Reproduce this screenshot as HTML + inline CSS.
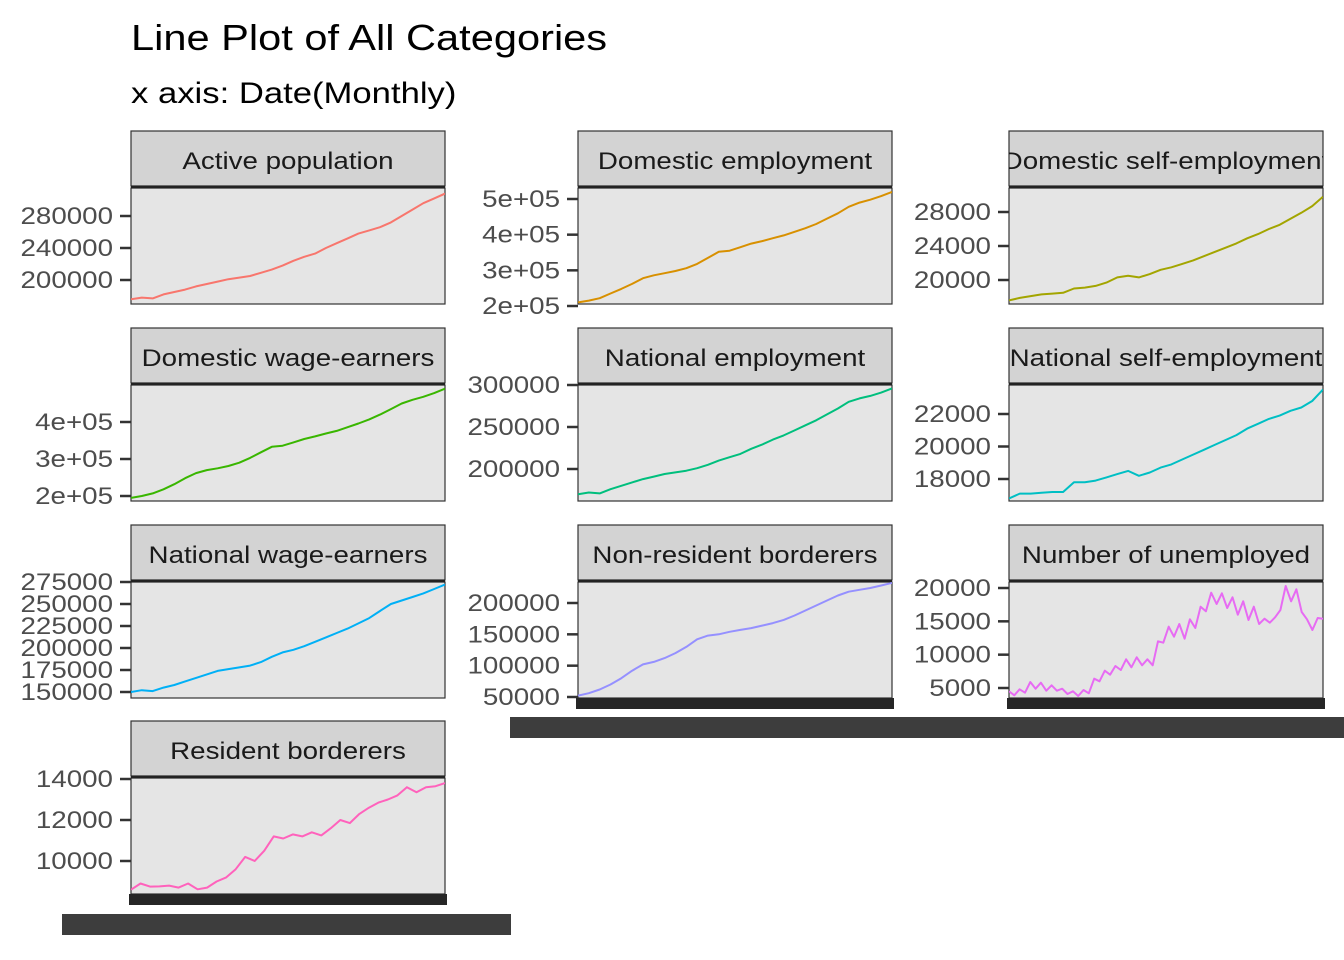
<!DOCTYPE html>
<html><head><meta charset="utf-8"><style>
html,body{margin:0;padding:0;background:#fff;}
svg{display:block;font-family:"Liberation Sans",Arial,sans-serif;}
</style></head><body>
<svg id="chart" width="1344" height="960" viewBox="0 0 1344 960">
<text id="ttl" x="131" y="50" font-size="36" fill="#000">Line Plot of All Categories</text>
<text id="sub" x="131" y="103" font-size="30" fill="#000">x axis: Date(Monthly)</text>
<g id="panels"></g>
</svg>
<script>
const categories = ["Active population","Domestic employment","Domestic self-employment","Domestic wage-earners","National employment","National self-employment","National wage-earners","Non-resident borderers","Number of unemployed","Resident borderers"];
const colors = ["#F8766D","#D89000","#A3A500","#39B600","#00BF7D","#00BFC4","#00B0F6","#9590FF","#E76BF3","#FF62BC"];
const sActive = [176000,178000,177000,182000,185000,188000,192000,195000,198000,201000,203000,205000,209000,213000,218000,224000,229000,233000,240000,246000,252000,258000,262000,266000,272000,280000,288000,296000,302000,308000];
const sDomEmp = [210000,215000,222000,235000,248000,262000,278000,286000,292000,298000,306000,318000,335000,352000,355000,365000,375000,382000,390000,398000,408000,418000,430000,445000,460000,478000,490000,498000,508000,520000];
const sDomSelf = [17600,17900,18100,18300,18400,18500,19000,19100,19300,19700,20300,20500,20300,20700,21200,21500,21900,22300,22800,23300,23800,24300,24900,25400,26000,26500,27200,27900,28700,29800];
const sDomWage = [195000,200000,207000,218000,232000,248000,262000,270000,275000,281000,290000,303000,318000,333000,336000,345000,354000,361000,369000,376000,386000,396000,407000,420000,435000,450000,460000,468000,478000,490000];
const sNatEmp = [170000,172000,171000,176000,180000,184000,188000,191000,194000,196000,198000,201000,205000,210000,214000,218000,224000,229000,235000,240000,246000,252000,258000,265000,272000,280000,284000,287000,291000,296000];
const sNatSelf = [16800,17100,17100,17150,17200,17200,17800,17800,17900,18100,18300,18500,18200,18400,18700,18900,19200,19500,19800,20100,20400,20700,21100,21400,21700,21900,22200,22400,22800,23500];
const sNatWage = [150000,152000,151000,155000,158000,162000,166000,170000,174000,176000,178000,180000,184000,190000,195000,198000,202000,207000,212000,217000,222000,228000,234000,242000,250000,254000,258000,262000,267000,272000];
const sNonRes = [52000,56000,62000,70000,80000,92000,102000,106000,112000,120000,130000,142000,148000,150000,154000,157000,160000,164000,168000,173000,180000,188000,196000,204000,212000,218000,221000,224000,228000,232000];
const sUnemp = [4500,3900,4800,4300,5900,4900,5800,4600,5400,4600,4900,4100,4500,3800,4700,4200,6400,6000,7600,7000,8300,7700,9300,8100,9600,8400,9300,8400,12000,11800,14200,12700,14600,12400,15300,14000,17200,16500,19300,17600,19200,17000,18600,16000,18000,15200,17200,14600,15400,14800,15600,16700,20300,18000,19800,16400,15300,13700,15500,15400];
const sResident = [8600,8900,8750,8760,8800,8700,8900,8620,8700,9000,9200,9600,10200,10000,10500,11200,11100,11300,11200,11400,11250,11600,12000,11850,12300,12600,12850,13000,13200,13600,13350,13600,13650,13800];
const series = [sActive,sDomEmp,sDomSelf,sDomWage,sNatEmp,sNatSelf,sNatWage,sNonRes,sUnemp,sResident];
const tickValues = [[280000,240000,200000],[500000,400000,300000,200000],[28000,24000,20000],[400000,300000,200000],[300000,250000,200000],[22000,20000,18000],[275000,250000,225000,200000,175000,150000],[200000,150000,100000,50000],[20000,15000,10000,5000],[14000,12000,10000]];
const tickLabels = [["280000","240000","200000"],["5e+05","4e+05","3e+05","2e+05"],["28000","24000","20000"],["4e+05","3e+05","2e+05"],["300000","250000","200000"],["22000","20000","18000"],["275000","250000","225000","200000","175000","150000"],["200000","150000","100000","50000"],["20000","15000","10000","5000"],["14000","12000","10000"]];
const tickPix = [[216,280],[199,306],[212,280],[422,496],[385,469],[414,479],[582,692],[603,697],[588,688],[779,861]];
const colX = [131,578,1009], rowY = [131,328,525,721];
const PW = 314, SH = 55, PH = 116, STRETCH = 1.155;
const NS = "http://www.w3.org/2000/svg";
const g = document.getElementById('panels');
function mk(tag, attrs, parent){const e=document.createElementNS(NS,tag);for(const k in attrs)e.setAttribute(k,attrs[k]);(parent||g).appendChild(e);return e;}
function stretch(el){const l=el.getComputedTextLength();if(l>0){el.setAttribute('textLength',(l*STRETCH).toFixed(1));el.setAttribute('lengthAdjust','spacingAndGlyphs');}}
stretch(document.getElementById('ttl'));
stretch(document.getElementById('sub'));
categories.forEach((cat,i)=>{
  const c=i%3, r=Math.floor(i/3);
  const x0=colX[c], y0=rowY[r], py=y0+SH+2;
  const grp=mk('g',{});
  
  
  const strip=mk('rect',{x:x0,y:y0,width:PW,height:SH,fill:'#d3d3d3',stroke:'#333','stroke-width':1.2},grp);
  
  
  const clip=mk('clipPath',{id:'cp'+i},grp);
  mk('rect',{x:x0,y:y0,width:PW,height:SH},clip);
  const sg=mk('g',{'clip-path':'url(#cp'+i+')'},grp);
  const st=mk('text',{x:x0+PW/2,y:y0+38,'font-size':'24','text-anchor':'middle',fill:'#1a1a1a'},sg);
  st.textContent=cat;
  
  
  stretch(st);
  const bg=mk('rect',{x:x0,y:py,width:PW,height:PH,fill:'#e5e5e5',stroke:'#333','stroke-width':1.2},grp);
  
  
  const sep=mk('line',{x1:x0,x2:x0+PW,y1:py-1,y2:py-1,stroke:'#222','stroke-width':3},grp);
  
  
  const tv=tickValues[i], tp=tickPix[i];
  const v1=tv[0], v2=tv[tv.length-1];
  const yS=v=>tp[0]+(v-v1)*(tp[1]-tp[0])/(v2-v1);
  const data=series[i];
  const xS=k=>x0+k*PW/(data.length-1);
  tv.forEach((v,k)=>{
    const y=yS(v);
    const tk=mk('line',{x1:x0-11,x2:x0,y1:y,y2:y,stroke:'#333','stroke-width':2.5},grp);
    
    
    const tl=mk('text',{x:x0-18,y:y+8,'font-size':'24','text-anchor':'end',fill:'#4d4d4d'},grp);
    tl.textContent=tickLabels[i][k];
    
    
    stretch(tl);
  });
  const pclip=mk('clipPath',{id:'pc'+i},grp);
  mk('rect',{x:x0,y:py,width:PW,height:PH},pclip);
  const pts=data.map((v,k)=>xS(k).toFixed(1)+','+yS(v).toFixed(1)).join(' ');
  const ln=mk('polyline',{points:pts,fill:'none',stroke:colors[i],'stroke-width':2,'stroke-linejoin':'round','clip-path':'url(#pc'+i+')'},grp);
  
  
  if(i===7||i===8||i===9){
    const bar=mk('rect',{x:x0-2,y:py+PH,width:PW+4,height:11,fill:'#262626'},grp);
    
    
  }
});
const xl1=mk('rect',{x:62,y:914,width:449,height:21,fill:'#3d3d3d'});


const xl2=mk('rect',{x:510,y:717,width:834,height:21,fill:'#3d3d3d'});


</script>
</body></html>
